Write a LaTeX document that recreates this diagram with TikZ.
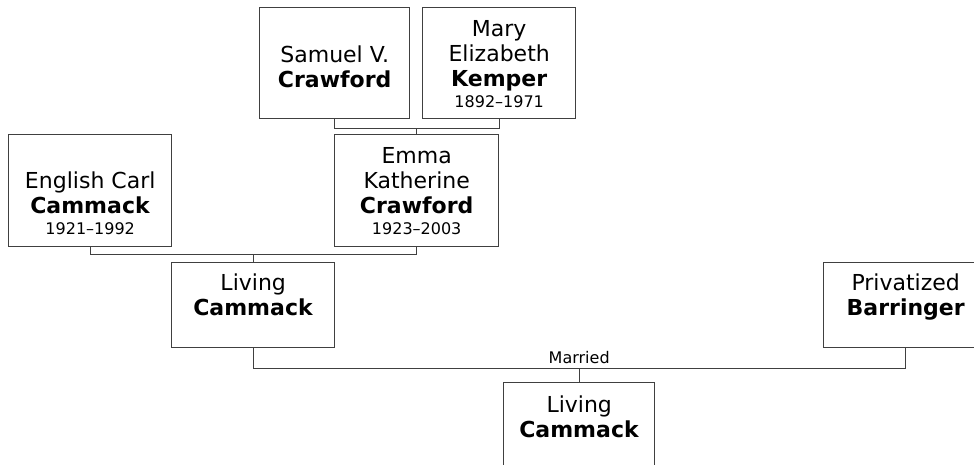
\documentclass[tikz,border=0pt]{standalone}
\usepackage{fontspec}
\setmainfont{DejaVu Sans}
\usepackage{tikz}
\usetikzlibrary{positioning,calc}
\definecolor{linegray}{HTML}{404040}
\newcommand{\datefont}{\fontsize{16}{18}\selectfont}

\begin{document}
\begin{tikzpicture}[x=1pt, y=-1pt, font=\fontsize{22}{25}\selectfont,
  personbox/.style={draw=linegray, line width=1.4pt, anchor=north west, inner sep=0pt, fill=white},
  nametext/.style={anchor=north, align=center, inner sep=0pt},
  link/.style={draw=linegray, line width=1.4pt}]
\useasboundingbox (0,0) rectangle (974,464);
\clip (0,0) rectangle (974,464);
% grandparents on the top row
\node[personbox, minimum width=150pt, minimum height=111pt] (samuel) at (259,7) {};
\node[personbox, minimum width=153pt, minimum height=111pt] (mary) at (422,7) {};
\node[nametext] (samuel-t) at ([yshift=-39pt]samuel.north) {Samuel V.\\\textbf{Crawford}};
\node[nametext] (mary-t) at ([yshift=-13pt]mary.north) {Mary\\Elizabeth\\\textbf{Kemper}\\[-4pt]{\datefont 1892–1971}};
% parents
\node[personbox, minimum width=163pt, minimum height=112pt] (carl) at (8,134) {};
\node[personbox, minimum width=164pt, minimum height=112pt] (emma) at (334,134) {};
\node[nametext] (carl-t) at ([yshift=-38pt]carl.north) {English Carl\\\textbf{Cammack}\\[-4pt]{\datefont 1921–1992}};
\node[nametext] (emma-t) at ([yshift=-13pt]emma.north) {Emma\\Katherine\\\textbf{Crawford}\\[-4pt]{\datefont 1923–2003}};
% the couple
\node[personbox, minimum width=163pt, minimum height=85pt] (living) at (171,262) {};
\node[personbox, minimum width=164pt, minimum height=85pt] (priv) at (823,262) {};
\node[nametext] (living-t) at ([yshift=-12pt]living.north) {Living\\\textbf{Cammack}};
\node[nametext] (priv-t) at ([yshift=-12pt]priv.north) {Privatized\\\textbf{Barringer}};
% their child
\node[personbox, minimum width=151pt, minimum height=85pt] (child) at (503,382) {};
\node[nametext] (child-t) at ([yshift=-14pt]child.north) {Living\\\textbf{Cammack}};
% family lines
\draw[link] (samuel.south) -- ++(0,9) coordinate (sm) -| (mary.south);
\draw[link] (emma.north) -- (emma.north |- sm);
\draw[link] (carl.south) -- ++(0,7) coordinate (ce) -| (emma.south);
\draw[link] (living.north) -- (living.north |- ce);
\draw[link] (living.south) -- ++(0,20) coordinate (lp) -| (priv.south);
\coordinate (wed) at (child.north |- lp);
\draw[link] (child.north) -- (wed);
\node[above=4pt, inner sep=0pt, font=\datefont] (married) at (wed) {Married};
\end{tikzpicture}
\end{document}
